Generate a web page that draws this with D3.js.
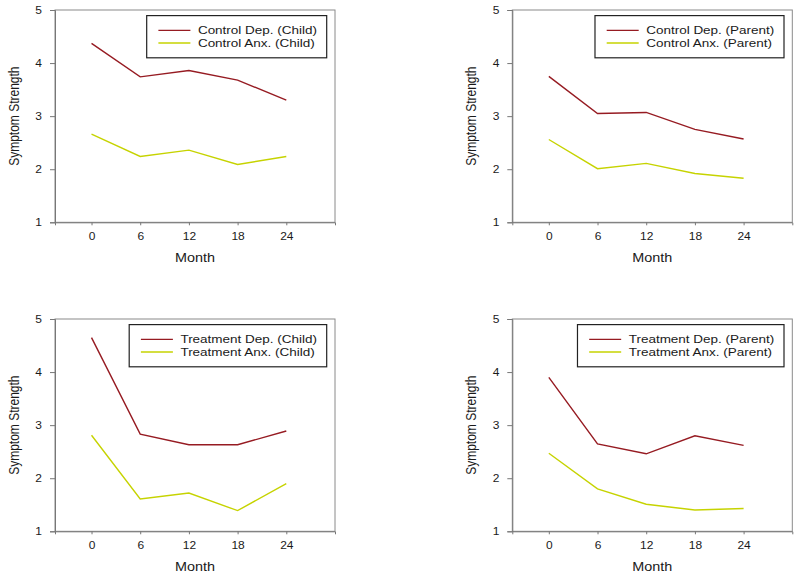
<!DOCTYPE html>
<html>
<head>
<meta charset="utf-8">
<script src="https://cdn.jsdelivr.net/npm/d3@7"></script>
<style>
  html, body { margin: 0; padding: 0; background: #fff; }
  svg { display: block; }
  text { font-family: "Liberation Sans", Arial, sans-serif; fill: #1a1a1a; }
</style>
</head>
<body>
<svg id="chart" width="800" height="578"></svg>
<script>
// ---- data ----
const months = [0, 6, 12, 18, 24];
const yTicks = [1, 2, 3, 4, 5];
const ctrlDepChild  = [4.37, 3.74, 3.86, 3.68, 3.30];
const ctrlAnxChild  = [2.66, 2.24, 2.36, 2.09, 2.24];
const ctrlDepParent = [3.75, 3.05, 3.07, 2.75, 2.57];
const ctrlAnxParent = [2.56, 2.01, 2.11, 1.92, 1.83];
const trtDepChild   = [4.65, 2.83, 2.63, 2.63, 2.89];
const trtAnxChild   = [2.81, 1.61, 1.72, 1.39, 1.90];
const trtDepParent  = [3.90, 2.645, 2.46, 2.80, 2.62];
const trtAnxParent  = [2.47, 1.80, 1.51, 1.40, 1.43];

const depLabels = ["Control Dep. (Child)", "Control Dep. (Parent)", "Treatment Dep. (Child)", "Treatment Dep. (Parent)"];
const anxLabels = ["Control Anx. (Child)", "Control Anx. (Parent)", "Treatment Anx. (Child)", "Treatment Anx. (Parent)"];
const depSeries = [ctrlDepChild, ctrlDepParent, trtDepChild, trtDepParent];
const anxSeries = [ctrlAnxChild, ctrlAnxParent, trtAnxChild, trtAnxParent];

const depColor = "#961b22";
const anxColor = "#c6d300";
const frameColor = "#8a8a8a";
const SX = 1.2; // horizontal text stretch seen in the reference

const svg = d3.select("#chart");
const W = 280, H = 212.3;
const origins = [[55, 10], [512.3, 10], [55, 319], [512.3, 319]];

origins.forEach((o, i) => {
  const g = svg.append("g").attr("transform", `translate(${o[0]},${o[1]})`);
  const x = d3.scaleLinear().domain([-4.5, 30]).range([0, W]);
  const y = d3.scaleLinear().domain([1, 5]).range([H, 0]);

  // frame
  g.append("rect").attr("x", 0).attr("y", 0).attr("width", W).attr("height", H)
    .attr("fill", "none").attr("stroke", frameColor).attr("stroke-width", 1);

  // y axis
  const ya = g.append("g").call(d3.axisLeft(y).tickValues(yTicks).tickSize(5).tickFormat(d3.format("d")));
  ya.select(".domain").attr("stroke", "#777");
  ya.selectAll(".tick line").attr("stroke", "#777");
  ya.selectAll(".tick text").attr("x", -13 / SX).attr("transform", `scale(${SX},1)`)
    .attr("font-size", 10).attr("font-family", null).style("fill", "#1a1a1a");

  // x axis
  const xa = g.append("g").attr("transform", `translate(0,${H})`)
    .call(d3.axisBottom(x).tickValues(months).tickSize(3).tickPadding(8).tickFormat(d3.format("d")));
  xa.select(".domain").attr("stroke", "#777");
  xa.selectAll(".tick line").attr("stroke", "#777");
  xa.selectAll(".tick text").attr("transform", `scale(${SX},1)`)
    .attr("font-size", 10).attr("font-family", null).style("fill", "#1a1a1a");

  // axis titles
  g.append("text").attr("transform", `translate(${W / 2},${H + 39.5}) scale(${SX},1)`)
    .attr("text-anchor", "middle").attr("font-size", 12).text("Month");
  g.append("text").attr("transform", `translate(-41.5,${H / 2}) scale(${SX},1) rotate(-90)`)
    .attr("text-anchor", "middle").attr("dy", "0.35em").attr("font-size", 12).text("Symptom Strength");

  // lines
  const line = d3.line().x((d, k) => x(months[k])).y(d => y(d));
  g.append("path").datum(anxSeries[i]).attr("d", line)
    .attr("fill", "none").attr("stroke", anxColor).attr("stroke-width", 1.4);
  g.append("path").datum(depSeries[i]).attr("d", line)
    .attr("fill", "none").attr("stroke", depColor).attr("stroke-width", 1.4);

  // legend
  const lg = g.append("g");
  const rect = lg.append("rect");
  const t1 = lg.append("text").attr("font-size", 11.25).text(depLabels[i]);
  const t2 = lg.append("text").attr("font-size", 11.25).text(anxLabels[i]);
  const tw = Math.max(t1.node().getComputedTextLength(), t2.node().getComputedTextLength()) * SX;
  const padL = 11.7, lineW = 32, gap = 7.5, padR = 9.5;
  const bw = padL + lineW + gap + tw + padR, bh = 42.2;
  const bx = W - 8.3 - bw, by = 5.6;
  rect.attr("x", bx).attr("y", by).attr("width", bw).attr("height", bh)
    .attr("fill", "#fff").attr("stroke", "#222").attr("stroke-width", 1.2);
  const rows = [by + 14.8, by + 27.4];
  [[t1, depColor], [t2, anxColor]].forEach((p, r) => {
    lg.append("line").attr("x1", bx + padL).attr("x2", bx + padL + lineW)
      .attr("y1", rows[r]).attr("y2", rows[r]).attr("stroke", p[1]).attr("stroke-width", 1.4);
    p[0].attr("transform", `translate(${bx + padL + lineW + gap},${rows[r] + 4}) scale(${SX},1)`);
  });
});
</script>
</body>
</html>
